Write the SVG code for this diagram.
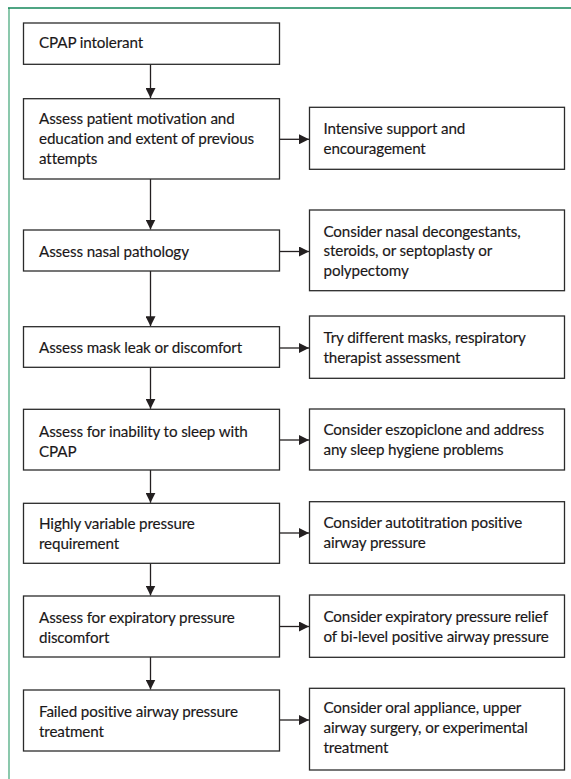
<svg xmlns="http://www.w3.org/2000/svg" width="571" height="779" viewBox="0 0 571 779">
<style>
.box{fill:#fff;stroke:#2b2b2b;stroke-width:1.3}
.t{font-family:Lato,"Open Sans",sans-serif;font-size:15.2px;letter-spacing:-0.12px;fill:#1a1718;stroke:#1a1718;stroke-width:0.15}
.c{stroke:#231f20;stroke-width:1.3;fill:none}
</style>
<defs>
<marker id="ah" markerWidth="10" markerHeight="10" refX="10" refY="5" orient="auto" markerUnits="userSpaceOnUse">
<path d="M0,0 L10,5 L0,10 Z" fill="#231f20"/>
</marker>
</defs>
<rect width="571" height="779" fill="#fff"/>
<line x1="9" y1="8" x2="9" y2="779" stroke="#6fbb98" stroke-width="1.6"/>
<line x1="8" y1="8" x2="571" y2="8" stroke="#15875a" stroke-width="1.4"/>

<g id="connectors">
<line class="c" x1="150.5" y1="64.3" x2="150.5" y2="98" marker-end="url(#ah)"/>
<line class="c" x1="150.5" y1="179" x2="150.5" y2="229.5" marker-end="url(#ah)"/>
<line class="c" x1="150.5" y1="271" x2="150.5" y2="326.2" marker-end="url(#ah)"/>
<line class="c" x1="150.5" y1="367.3" x2="150.5" y2="408.8" marker-end="url(#ah)"/>
<line class="c" x1="150.5" y1="470" x2="150.5" y2="502.8" marker-end="url(#ah)"/>
<line class="c" x1="150.5" y1="563.3" x2="150.5" y2="595.5" marker-end="url(#ah)"/>
<line class="c" x1="150.5" y1="657" x2="150.5" y2="689.5" marker-end="url(#ah)"/>
<line class="c" x1="279.5" y1="139.3" x2="309" y2="139.3" marker-end="url(#ah)"/>
<line class="c" x1="279.5" y1="251.5" x2="309" y2="251.5" marker-end="url(#ah)"/>
<line class="c" x1="279.5" y1="348" x2="309" y2="348" marker-end="url(#ah)"/>
<line class="c" x1="279.5" y1="440" x2="309" y2="440" marker-end="url(#ah)"/>
<line class="c" x1="279.5" y1="533" x2="309" y2="533" marker-end="url(#ah)"/>
<line class="c" x1="279.5" y1="626.5" x2="309" y2="626.5" marker-end="url(#ah)"/>
<line class="c" x1="279.5" y1="720" x2="309" y2="720" marker-end="url(#ah)"/>
</g>

<g id="n1"><rect class="box" x="23.5" y="23" width="256" height="41.3"/>
<text class="t" x="39" y="48.3">CPAP intolerant</text></g>

<g id="n2"><rect class="box" x="23.5" y="98.7" width="256" height="80.3"/>
<text class="t" x="39" y="124.3">Assess patient motivation and</text>
<text class="t" x="39" y="144">education and extent of previous</text>
<text class="t" x="39" y="163.5">attempts</text></g>

<g id="r2"><rect class="box" x="309.5" y="107.3" width="255" height="62"/>
<text class="t" x="323.5" y="134.3">Intensive support and</text>
<text class="t" x="323.5" y="154">encouragement</text></g>

<g id="n3"><rect class="box" x="23.5" y="230" width="256" height="41"/>
<text class="t" x="39" y="256.5">Assess nasal pathology</text></g>

<g id="r3"><rect class="box" x="309.5" y="210" width="255" height="80.7"/>
<text class="t" x="323.5" y="236.7">Consider nasal decongestants,</text>
<text class="t" x="323.5" y="256.2">steroids, or septoplasty or</text>
<text class="t" x="323.5" y="275.7">polypectomy</text></g>

<g id="n4"><rect class="box" x="23.5" y="326.7" width="256" height="40.6"/>
<text class="t" x="39" y="353.3">Assess mask leak or discomfort</text></g>

<g id="r4"><rect class="box" x="309.5" y="316" width="255" height="62.3"/>
<text class="t" x="323.5" y="343.3">Try different masks, respiratory</text>
<text class="t" x="323.5" y="362.5">therapist assessment</text></g>

<g id="n5"><rect class="box" x="23.5" y="409.3" width="256" height="60.7"/>
<text class="t" x="39" y="436.7">Assess for inability to sleep with</text>
<text class="t" x="39" y="456.5">CPAP</text></g>

<g id="r5"><rect class="box" x="309.5" y="409" width="255" height="61"/>
<text class="t" x="323.5" y="435">Consider eszopiclone and address</text>
<text class="t" x="323.5" y="454.5">any sleep hygiene problems</text></g>

<g id="n6"><rect class="box" x="23.5" y="503.3" width="256" height="60"/>
<text class="t" x="39" y="529.3">Highly variable pressure</text>
<text class="t" x="39" y="549.3">requirement</text></g>

<g id="r6"><rect class="box" x="309.5" y="501.7" width="255" height="61.6"/>
<text class="t" x="323.5" y="527.5">Consider autotitration positive</text>
<text class="t" x="323.5" y="547.5">airway pressure</text></g>

<g id="n7"><rect class="box" x="23.5" y="596" width="256" height="61"/>
<text class="t" x="39" y="623.3">Assess for expiratory pressure</text>
<text class="t" x="39" y="642.7">discomfort</text></g>

<g id="r7"><rect class="box" x="309.5" y="595" width="255" height="62.3"/>
<text class="t" x="323.5" y="621.7">Consider expiratory pressure relief</text>
<text class="t" x="323.5" y="641.7">of bi-level positive airway pressure</text></g>

<g id="n8"><rect class="box" x="23.5" y="690" width="256" height="61"/>
<text class="t" x="39" y="716.7">Failed positive airway pressure</text>
<text class="t" x="39" y="736.7">treatment</text></g>

<g id="r8"><rect class="box" x="309.5" y="688.3" width="255" height="81.7"/>
<text class="t" x="323.5" y="713.3">Consider oral appliance, upper</text>
<text class="t" x="323.5" y="733.3">airway surgery, or experimental</text>
<text class="t" x="323.5" y="753.3">treatment</text></g>
</svg>
